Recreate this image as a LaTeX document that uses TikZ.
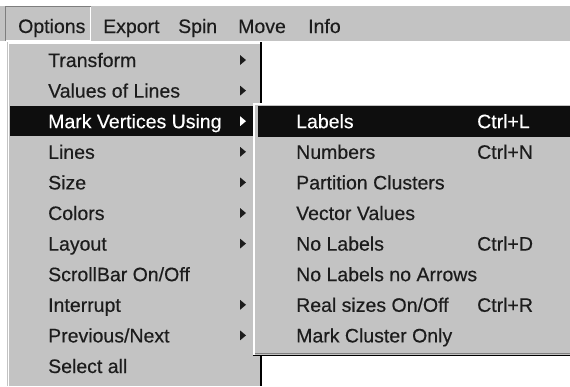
\documentclass[tikz,border=0pt]{standalone}
\usepackage{fontspec}
\setmainfont[FakeBold=0.4]{Liberation Sans}
\usetikzlibrary{positioning}

\definecolor{menugray}{HTML}{C3C3C3}
\definecolor{barline}{HTML}{7E7E7E}
\definecolor{ink}{HTML}{1C1C1C}
\definecolor{hlblack}{HTML}{0E0E0E}

\newcommand{\menufont}{\fontsize{19.5}{22}\selectfont}

\tikzset{
  menuitem/.style={anchor=base west,inner sep=0pt,font=\menufont,text=ink},
  hlitem/.style={menuitem,text=white},
  subarrow/.pic={\fill (0,-5) -- (6,0) -- (0,5) -- cycle;}
}

\begin{document}
\begin{tikzpicture}[x=1pt,y=-1pt]

	\useasboundingbox (0,0) rectangle (570,386);
	\fill[white] (0,0) rectangle (570,386);

	% menu bar
	\fill[menugray] (0,6) rectangle (570,41);
	\draw[white,line width=1pt] (0,41.5) -- (570,41.5);
	\draw[barline,line width=1pt] (5.5,41) |- (91,6.5);
	\draw[white,line width=1pt] (5.5,40.5) -| (90.5,6.5);

	\node[menuitem] (bOptions) at (18,33) {Options};
	\node[menuitem] (bExport) at (103,33) {Export};
	\node[menuitem] (bSpin) at (178,33) {Spin};
	\node[menuitem] (bMove) at (238,33) {Move};
	\node[menuitem] (bInfo) at (308,33) {Info};

	% main menu
	\fill[menugray] (7,42) rectangle (262,386);
	\draw[white,line width=1.5pt] (8.5,386) |- (260,42.75);
	\draw[black,line width=2pt] (261,42) -- (261,386);
	\fill[hlblack] (10,106) rectangle (254,136);

	\node[menuitem] (mTransform) at (48,67) {Transform};
	\node[menuitem] (mValues) at (48,97.6) {Values of Lines};
	\node[hlitem] (mMark) at (48,128.2) {Mark Vertices Using};
	\node[menuitem] (mLines) at (48,158.8) {Lines};
	\node[menuitem] (mSize) at (48,189.4) {Size};
	\node[menuitem] (mColors) at (48,220) {Colors};
	\node[menuitem] (mLayout) at (48,250.6) {Layout};
	\node[menuitem] (mScroll) at (48,281.2) {ScrollBar On/Off};
	\node[menuitem] (mInterrupt) at (48,311.8) {Interrupt};
	\node[menuitem] (mPrev) at (48,342.4) {Previous/Next};
	\node[menuitem] (mSelect) at (48,373) {Select all};

	\foreach \y in {60,90.6,151.8,182.4,213,243.6,304.8,335.4}
		\pic[ink] at (240,\y) {subarrow};
	\pic[white] at (240,121.2) {subarrow};

	% submenu
	\fill[menugray] (253,103) rectangle (570,356);
	\draw[white,line width=1.5pt] (253.75,356) |- (570,103.75);
	\draw[barline,line width=1pt] (254.5,353.5) -- (570,353.5);
	\draw[black,line width=1.5pt] (253,355.5) -- (570,355.5);
	\fill[hlblack] (258,106) rectangle (570,137);

	\node[hlitem] (sLabels) at (296,128.2) {Labels};
	\node[menuitem] (sNumbers) at (296,158.8) {Numbers};
	\node[menuitem] (sPartition) at (296,189.4) {Partition Clusters};
	\node[menuitem] (sVector) at (296,220) {Vector Values};
	\node[menuitem] (sNoLabels) at (296,250.6) {No Labels};
	\node[menuitem] (sNoArrows) at (296,281.2) {No Labels no Arrows};
	\node[menuitem] (sReal) at (296,311.8) {Real sizes On/Off};
	\node[menuitem] (sCluster) at (296,342.4) {Mark Cluster Only};

	\node[hlitem] (kLabels) at (477,128.2) {Ctrl+L};
	\node[menuitem] (kNumbers) at (477,158.8) {Ctrl+N};
	\node[menuitem] (kNoLabels) at (477,250.6) {Ctrl+D};
	\node[menuitem] (kReal) at (477,311.8) {Ctrl+R};

\end{tikzpicture}
\end{document}
